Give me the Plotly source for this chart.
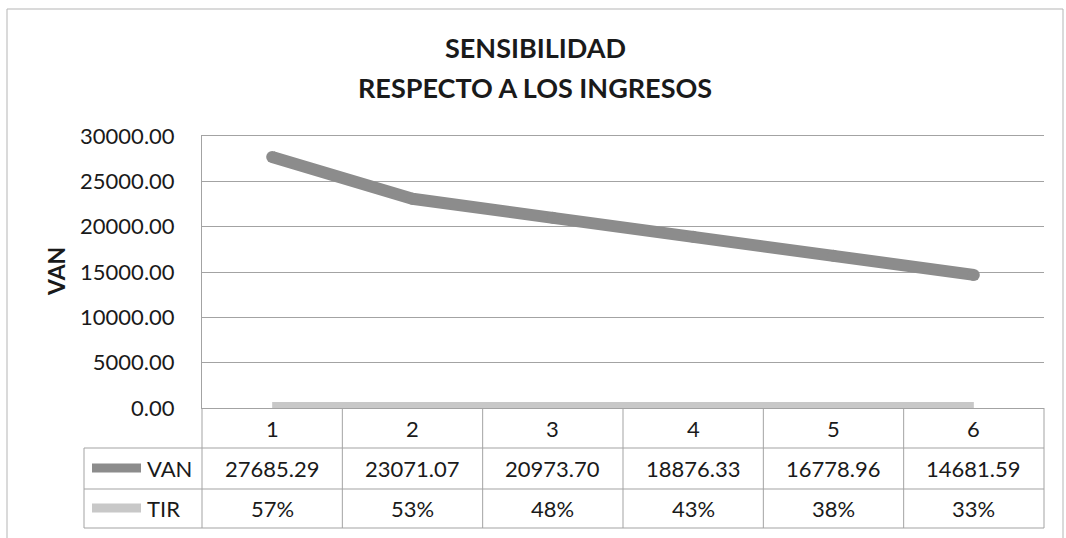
import plotly.graph_objects as go

# ---- data ----
periods = [1, 2, 3, 4, 5, 6]
van = [27685.29, 23071.07, 20973.70, 18876.33, 16778.96, 14681.59]
tir = [0.57, 0.53, 0.48, 0.43, 0.38, 0.33]
y_ticks = [0, 5000, 10000, 15000, 20000, 25000, 30000]
title_lines = ["SENSIBILIDAD", "RESPECTO A LOS INGRESOS"]

# ---- layout geometry (pixels) ----
W, H = 1066, 538
PL, PR, PT, PB = 202, 1044, 136, 408      # plot area edges
FONT = "Lato"
TXT = "#1a1a1a"
GRID = "#a3a3a3"
VAN_COL = "#8c8c8c"
TIR_COL = "#c8c8c8"


def fx(p):
    """pixel x -> paper x"""
    return (p - PL) / (PR - PL)


def fy(p):
    """pixel y -> paper y"""
    return (PB - p) / (PB - PT)


fig = go.Figure()

fig.add_trace(go.Scatter(
    x=periods, y=tir, name="TIR", mode="lines",
    line=dict(color=TIR_COL, width=12),
    hoverinfo="skip", showlegend=False))
fig.add_trace(go.Scatter(
    x=periods, y=van, name="VAN", mode="lines+markers",
    line=dict(color=VAN_COL, width=12), marker=dict(color=VAN_COL, size=12),
    cliponaxis=False, hoverinfo="skip", showlegend=False))

# ---- data table beneath the plot ----
row_hdr_bottom, row_van_bottom, row_tir_bottom = 448, 489, 528
legend_left = 84
shapes = []
line_style = dict(color=GRID, width=1)
for yb in (row_hdr_bottom, row_van_bottom, row_tir_bottom):
    shapes.append(dict(type="line", xref="paper", yref="paper",
                       x0=fx(legend_left), x1=1, y0=fy(yb), y1=fy(yb), line=line_style))
shapes.append(dict(type="line", xref="paper", yref="paper",
                   x0=fx(legend_left), x1=fx(legend_left),
                   y0=fy(row_hdr_bottom), y1=fy(row_tir_bottom), line=line_style))
n = len(periods)
for k in range(n + 1):
    shapes.append(dict(type="line", xref="paper", yref="paper",
                       x0=k / n, x1=k / n, y0=0, y1=fy(row_tir_bottom), line=line_style))

# legend swatches inside the table
for yc, col in ((468, VAN_COL), (508, TIR_COL)):
    shapes.append(dict(type="line", xref="paper", yref="paper",
                       x0=fx(92), x1=fx(141), y0=fy(yc), y1=fy(yc),
                       line=dict(color=col, width=9)))

# outer chart frame
shapes.append(dict(type="rect", xref="paper", yref="paper",
                   x0=fx(7), x1=fx(1063), y0=fy(9), y1=fy(560),
                   line=dict(color="#b5b5b5", width=1), fillcolor="rgba(0,0,0,0)"))

annotations = []
cell_font = dict(family=FONT, size=22, color=TXT)


def note(x, y, text, font, xref="paper", xanchor="center", **kw):
    annotations.append(dict(x=x, y=y, xref=xref, yref="paper", text=text,
                            xanchor=xanchor, yanchor="middle",
                            showarrow=False, font=font, **kw))


for i, p in enumerate(periods):
    note(p, fy(428), str(p), cell_font, xref="x")
    note(p, fy(468), f"{van[i]:.2f}", cell_font, xref="x")
    note(p, fy(508), f"{tir[i] * 100:.0f}%", cell_font, xref="x")
for yc, label in ((468, "VAN"), (508, "TIR")):
    note(fx(145), fy(yc), label, cell_font, xanchor="left")

# chart title (two lines) and y axis title
for yc, t in zip((47, 87), title_lines):
    note(fx(535), fy(yc), f"<b>{t}</b>", dict(family=FONT, size=27, color=TXT))
note(fx(56), fy(272), "<b>VAN</b>", dict(family=FONT, size=23, color=TXT), textangle=-90)

fig.update_layout(
    width=W, height=H,
    margin=dict(l=PL, r=W - PR, t=PT, b=H - PB, autoexpand=False),
    paper_bgcolor="white", plot_bgcolor="white",
    font=dict(family=FONT, color=TXT),
    shapes=shapes, annotations=annotations,
    xaxis=dict(range=[0.5, 6.5], showticklabels=False, showgrid=False, zeroline=False,
               showline=True, mirror=True, linecolor=GRID, linewidth=1, ticks=""),
    yaxis=dict(range=[0, 30000], tickvals=y_ticks, tickformat=".2f",
               tickfont=dict(family=FONT, size=22, color=TXT),
               showgrid=True, gridcolor=GRID, gridwidth=1, zeroline=False,
               showline=True, linecolor=GRID, linewidth=1, ticks="",
               ticklabelstandoff=22),
)

fig.write_html("out.html")
